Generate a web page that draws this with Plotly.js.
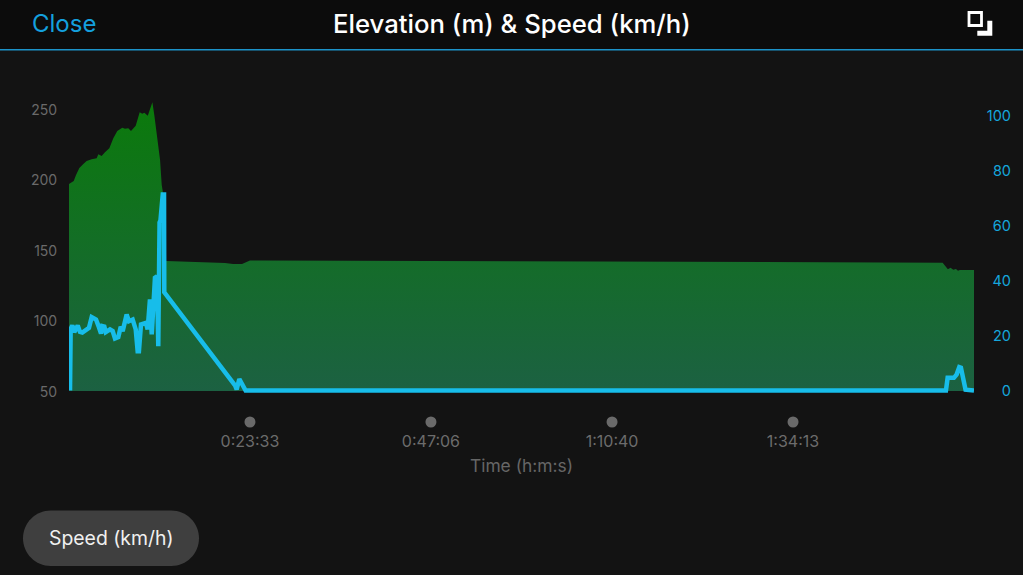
<!DOCTYPE html>
<html>
<head>
<meta charset="utf-8">
<script src="https://cdn.plot.ly/plotly-3.0.1.min.js"></script>
<style>html,body{margin:0;padding:0;background:#131313;overflow:hidden}#c{width:1023px;height:575px}</style>
</head>
<body>
<div id="c"></div>
<script>
var elevationTime = [0,21,37,55,81,112,138,177,216,229,255,281,315,346,377,416,437,463,484,521,552,572,588,615,633,651,666,685,711,724,734,754,758,1218,1281,1351,1413,1491,4146,6722,6821,6862,6883,6904,6925,6941,6956,7066];
var elevationMeters = [196.8,198.2,198.9,203.2,208.2,211,213.1,214.3,215,217.9,216.7,219.3,222.1,229.2,234.4,236.7,236,236.3,234.4,238.2,247.7,246.7,247.4,245.2,249.3,254.8,245.7,231.6,213.8,196.1,190.4,145,142.2,140.8,140.1,140.1,142.6,142.6,141.8,141,141,136.3,137.4,136,136.5,135.3,135.8,135.8];
var elevationFloorTime = [0,7066];
var elevationFloor = [50,50];
var speedTime = [8,13,26,41,68,86,104,138,156,177,211,229,250,260,276,287,320,341,359,385,404,419,450,468,497,521,536,546,562,601,614,632,646,666,671,687,691,697,707,714,732,742,744,1270,1296,1309,1330,1379,6847,6860,6884,6909,6930,6951,6964,6977,7000,7066];
var speedKmh = [0,22.4,23.7,21.2,23.6,21.3,21.1,22.4,22.8,26.7,25.8,23.6,20.7,23.4,23.2,21.2,22.2,21.6,18.9,19.4,23.2,21.6,27.6,25.2,25.8,22.2,14.3,14.3,24,24.6,22.2,33.1,20.4,36.7,41,41.5,16.1,16.1,61.1,61.8,71.3,71.3,35.7,4,1.9,0.4,4.2,0,0,4.6,4.4,4.6,5.8,8.5,8.3,5.8,0.3,0];
var timeTicks = [1413,2826,4240,5653];
var timeLabels = ['0:23:33','0:47:06','1:10:40','1:34:13'];
var elevationTicks = [50,100,150,200,250];
var speedTicks = [0,20,40,60,80,100];

var W = 1023, H = 575, L = 69, R = 12, T = 100, B = 178;
var PW = W - L - R, PH = H - T - B;
var elevationLow = 50 - 6 / 1.41;
var speedLow = -6.5 / 2.75;
function fx(x){ return (x - L) / PW; }
function fy(y){ return 1 - (y - T) / PH; }
function pt(x, y){ return fx(x) + ',' + fy(y); }
var UI = 'Inter, "Noto Sans", sans-serif';

function rectShape(x0, y0, x1, y1, color){
  return {type:'rect', xref:'paper', yref:'paper', layer:'below', x0:fx(x0), x1:fx(x1), y0:fy(y0), y1:fy(y1), fillcolor:color, line:{width:0}};
}
function pillPath(x0, y0, x1, y1){
  var r = (y1 - y0) / 2, k = r * 0.5523;
  return 'M' + pt(x0 + r, y0) + ' L' + pt(x1 - r, y0) +
    ' C' + pt(x1 - r + k, y0) + ' ' + pt(x1, y0 + r - k) + ' ' + pt(x1, y0 + r) +
    ' C' + pt(x1, y0 + r + k) + ' ' + pt(x1 - r + k, y1) + ' ' + pt(x1 - r, y1) +
    ' L' + pt(x0 + r, y1) +
    ' C' + pt(x0 + r - k, y1) + ' ' + pt(x0, y0 + r + k) + ' ' + pt(x0, y0 + r) +
    ' C' + pt(x0, y0 + r - k) + ' ' + pt(x0 + r - k, y0) + ' ' + pt(x0 + r, y0) + ' Z';
}

var traces = [
  {x:elevationFloorTime, y:elevationFloor, type:'scatter', mode:'lines', line:{width:0}, hoverinfo:'skip', showlegend:false},
  {x:elevationTime, y:elevationMeters, type:'scatter', mode:'lines', fill:'tonexty',
   line:{width:0, color:'#0c7a0c'},
   fillgradient:{type:'vertical', start:50, stop:255, colorscale:[[0,'#1c6142'],[1,'#0b7a0b']]},
   hoverinfo:'skip', showlegend:false},
  {x:speedTime, y:speedKmh, yaxis:'y2', type:'scatter', mode:'lines',
   line:{width:4.5, color:'#17bdea', shape:'linear'}, hoverinfo:'skip', showlegend:false}
];

var dotShapes = timeTicks.map(function(t){
  return {type:'circle', xref:'x', yref:'paper', xsizemode:'pixel', ysizemode:'pixel',
    xanchor:t, yanchor:fy(422), x0:-5.5, x1:5.5, y0:-5.5, y1:5.5, fillcolor:'#6a6a6a', line:{width:0}};
});

var layout = {
  width:W, height:H, paper_bgcolor:'#131313', plot_bgcolor:'rgba(0,0,0,0)',
  margin:{l:L, r:R, t:T, b:B, pad:0}, showlegend:false, hovermode:false,
  xaxis:{domain:[0, (974 - L) / PW], range:[0,7066], showgrid:false, zeroline:false, showline:false,
    tickvals:timeTicks, ticktext:timeLabels, ticks:'outside', ticklen:30, tickcolor:'rgba(0,0,0,0)',
    tickfont:{family:UI, size:16, color:'#6c6c6c'},
    title:{text:'Time (h:m:s)', standoff:9, font:{family:UI, size:17.4, color:'#666666'}}},
  yaxis:{range:[elevationLow, elevationLow + PH / 1.41], showgrid:false, zeroline:false, showline:false,
    tickvals:elevationTicks, ticks:'outside', ticklen:8, tickcolor:'rgba(0,0,0,0)', ticklabelshift:1,
    tickfont:{family:UI, size:14, color:'#6a6a6a'}},
  yaxis2:{range:[speedLow, speedLow + PH / 2.75], overlaying:'y', anchor:'free', position:1, side:'left',
    showgrid:false, zeroline:false, showline:false,
    tickvals:speedTicks, ticks:'', tickfont:{family:UI, size:14.5, color:'#15a6dc'}},
  shapes:[
    rectShape(0, 0, W, 49, '#0c0c0c'),
    rectShape(0, 49, W, 50.5, '#1c93c9'),
    {type:'rect', xref:'paper', yref:'paper', x0:fx(969), x1:fx(981.5), y0:fy(12.5), y1:fy(25.5), fillcolor:'rgba(0,0,0,0)', line:{color:'#ffffff', width:2.8}},
    {type:'path', xref:'paper', yref:'paper', fillcolor:'#ffffff', line:{width:0},
     path:'M' + pt(992.3,20.7) + ' L' + pt(987.3,20.7) + ' L' + pt(987.3,30.7) + ' L' + pt(977.3,30.7) + ' L' + pt(977.3,35.7) + ' L' + pt(992.3,35.7) + ' Z'},
    {type:'path', xref:'paper', yref:'paper', layer:'below', fillcolor:'#3f3f3f', line:{width:0}, path:pillPath(23,510.5,199,566)}
  ].concat(dotShapes),
  annotations:[
    {xref:'paper', yref:'paper', x:fx(64), y:fy(23.5), text:'Close', showarrow:false, xanchor:'center', yanchor:'middle', font:{family:UI, size:24, color:'#14a0de'}},
    {xref:'paper', yref:'paper', x:fx(511.5), y:fy(23.5), text:'Elevation (m) & Speed (km/h)', showarrow:false, xanchor:'center', yanchor:'middle', font:{family:UI, size:25.7, weight:500, color:'#ffffff'}},
    {xref:'paper', yref:'paper', x:fx(111), y:fy(538), text:'Speed (km/h)', showarrow:false, xanchor:'center', yanchor:'middle', font:{family:UI, size:19.4, color:'#f0f0f0'}}
  ]
};
Plotly.newPlot('c', traces, layout, {displayModeBar:false, staticPlot:true});
</script>
</body>
</html>
